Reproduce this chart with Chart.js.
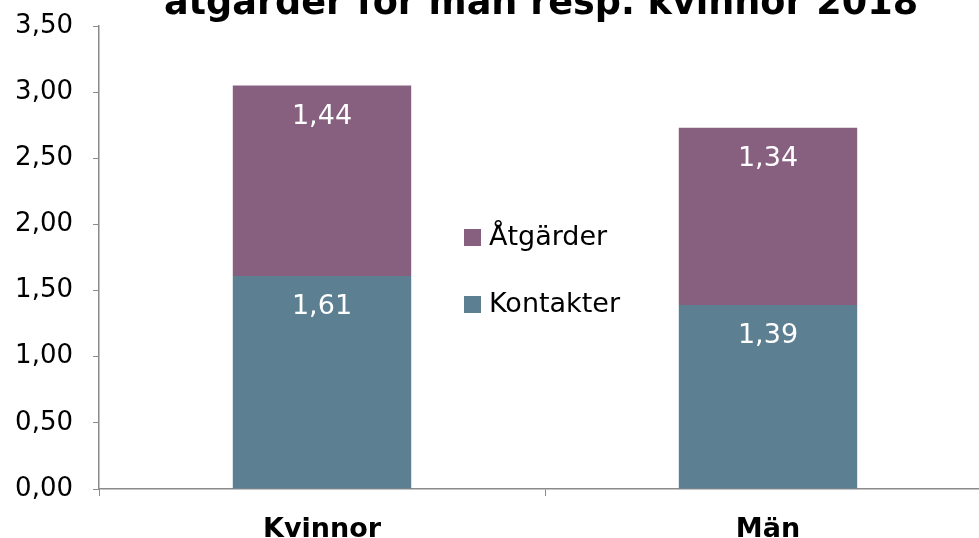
<!DOCTYPE html>
<html>
<head>
<meta charset="utf-8">
<script src="https://cdn.jsdelivr.net/npm/chart.js@4/dist/chart.umd.min.js"></script>
<style>
  html, body { margin:0; padding:0; background:#fff; overflow:hidden; }
  #c { display:block; }
</style>
</head>
<body>
<canvas id="c" width="991" height="538"></canvas>
<script>
(function(){
  'use strict';

  const categories = ['Kvinnor', 'Män'];
  const kontakter = [1.61, 1.39];
  const atgarder = [1.44, 1.34];
  const yTicks = [0, 0.5, 1, 1.5, 2, 2.5, 3, 3.5];
  const titleText = 'åtgärder för män resp. kvinnor 2018';

  const FONT = "'DejaVu Sans', Verdana, sans-serif";
  const COL_K = '#5d7f92';
  const COL_A = '#876080';
  const AXIS = '#8a8a8a';

  function fmt(v){ return Number(v).toFixed(2).replace('.', ','); }

  // title sits partly above the canvas, like the cropped original
  const titlePlugin = {
    id: 'cutTitle',
    afterDraw(chart){
      const ctx = chart.ctx;
      ctx.save();
      ctx.font = 'bold 36.6px ' + FONT;
      ctx.fillStyle = '#000';
      ctx.textAlign = 'center';
      ctx.textBaseline = 'alphabetic';
      ctx.fillText(titleText, 541, 14);
      ctx.restore();
    }
  };

  // white value labels near the top of each segment
  const valueLabels = {
    id: 'valueLabels',
    afterDatasetsDraw(chart){
      const ctx = chart.ctx;
      ctx.save();
      ctx.font = '27px ' + FONT;
      ctx.fillStyle = '#fff';
      ctx.textAlign = 'center';
      ctx.textBaseline = 'middle';
      chart.data.datasets.forEach((ds, i) => {
        chart.getDatasetMeta(i).data.forEach((bar, j) => {
          ctx.fillText(fmt(ds.data[j]), bar.x, bar.y + 31);
        });
      });
      ctx.restore();
    }
  };

  // legend placed inside the plot, between the bars
  const innerLegend = {
    id: 'innerLegend',
    afterDraw(chart){
      const ctx = chart.ctx;
      const items = [
        { ds: chart.data.datasets[1], y: 237 },
        { ds: chart.data.datasets[0], y: 304 }
      ];
      ctx.save();
      ctx.font = '27px ' + FONT;
      ctx.textBaseline = 'middle';
      ctx.textAlign = 'left';
      items.forEach(it => {
        ctx.fillStyle = it.ds.backgroundColor;
        ctx.fillRect(464, it.y - 8, 17, 17);
        ctx.fillStyle = '#000';
        ctx.fillText(it.ds.label, 489, it.y + 1);
      });
      ctx.restore();
    }
  };

  new Chart(document.getElementById('c').getContext('2d'), {
    type: 'bar',
    data: {
      labels: categories,
      datasets: [
        { label: 'Kontakter', data: kontakter, backgroundColor: COL_K, categoryPercentage: 1, barPercentage: 0.4 },
        { label: 'Åtgärder', data: atgarder, backgroundColor: COL_A, categoryPercentage: 1, barPercentage: 0.4 }
      ]
    },
    options: {
      responsive: false,
      animation: false,
      layout: { padding: { top: 26, right: 0, left: 0, bottom: 0 } },
      plugins: {
        legend: { display: false },
        title: { display: false },
        tooltip: { enabled: false }
      },
      scales: {
        x: {
          stacked: true,
          grid: { display: true, drawOnChartArea: false, drawTicks: true, tickLength: 7, color: AXIS, offset: true },
          border: { color: AXIS, width: 1.5 },
          ticks: { color: '#000', font: { family: FONT, size: 27, weight: 'bold' }, padding: 18 },
          afterFit(scale){ scale.height = 49; scale.paddingLeft = 0; scale.paddingRight = 0; }
        },
        y: {
          stacked: true,
          min: 0,
          max: 3.5,
          afterBuildTicks(scale){ scale.ticks = yTicks.map(v => ({ value: v })); },
          grid: { display: true, drawOnChartArea: false, drawTicks: true, tickLength: 6, color: AXIS },
          border: { color: AXIS, width: 1.5 },
          ticks: { color: '#000', font: { family: FONT, size: 26 }, padding: 20, callback: v => fmt(v) },
          afterFit(scale){ scale.width = 99; scale.paddingTop = 0; scale.paddingBottom = 0; }
        }
      }
    },
    plugins: [valueLabels, innerLegend, titlePlugin]
  });
})();
</script>
</body>
</html>
